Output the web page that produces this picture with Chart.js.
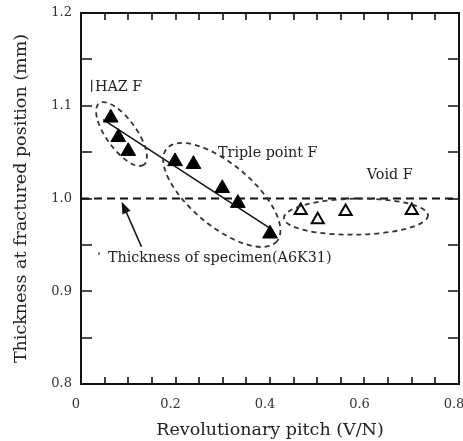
<!DOCTYPE html>
<html>
<head>
<meta charset="utf-8">
<script src="https://cdn.jsdelivr.net/npm/chart.js@4/dist/chart.umd.min.js"></script>
<style>
  html, body { margin: 0; padding: 0; background: #fff; }
  #wrap { width: 463px; height: 441px; }
</style>
</head>
<body>
<div id="wrap"><canvas id="thick_chart" width="463" height="441"></canvas></div>
<script>
// values
var hazX = [0.063, 0.079, 0.100];
var hazY = [1.087, 1.066, 1.051];
var tripleX = [0.199, 0.238, 0.299, 0.332, 0.400];
var tripleY = [1.040, 1.037, 1.011, 0.995, 0.962];
var voidX = [0.465, 0.501, 0.560, 0.700];
var voidY = [0.987, 0.977, 0.986, 0.987];
var fitX = [0.047, 0.406];
var fitY = [1.085, 0.966];
var specimenY = 1.0;
var xTicks = [0, 0.2, 0.4, 0.6, 0.8];
var yTicks = [0.8, 0.9, 1.0, 1.1, 1.2];

function pts(xs, ys) {
   return xs.map(function (x, i) { return {x: x, y: ys[i]}; });
}

var SERIF = '"DejaVu Serif", serif';
var INK = '#222';

// dashed ellipses, text and arrow (centres in data units)
var ellipses = [
   {x: 0.0857, y: 1.0695, rx: 38, ry: 15, rot: 54},
   {x: 0.298, y: 1.0038, rx: 72, ry: 31, rot: 40},
   {x: 0.582, y: 0.9804, rx: 72, ry: 18, rot: -1}
];
var notes = [
   {text: 'HAZ F', x: 0.0296, y: 1.120},
   {text: 'Triple point F', x: 0.290, y: 1.049},
   {text: 'Void F', x: 0.605, y: 1.025},
   {text: 'Thickness of specimen(A6K31)', x: 0.057, y: 0.935}
];
var arrow = {x0: 0.128, y0: 0.948, x1: 0.086, y1: 0.9966};

var framePlugin = {
   id: 'frame',
   afterDatasetsDraw: function (chart) {
      var ctx = chart.ctx;
      var xs = chart.scales.x, ys = chart.scales.y;
      var a = chart.chartArea;
      ctx.save();

      // ellipses
      ctx.strokeStyle = '#333';
      ctx.lineWidth = 1.8;
      ctx.setLineDash([5, 4]);
      ellipses.forEach(function (e) {
         ctx.beginPath();
         ctx.ellipse(xs.getPixelForValue(e.x), ys.getPixelForValue(e.y), e.rx, e.ry,
            e.rot * Math.PI / 180, 0, Math.PI * 2);
         ctx.stroke();
      });
      ctx.setLineDash([]);

      // notes
      ctx.fillStyle = INK;
      ctx.font = '14.3px ' + SERIF;
      ctx.textBaseline = 'middle';
      ctx.textAlign = 'left';
      notes.forEach(function (n) {
         ctx.fillText(n.text, xs.getPixelForValue(n.x), ys.getPixelForValue(n.y));
      });

      // stray marks in the original
      ctx.strokeStyle = INK;
      ctx.lineWidth = 1.2;
      ctx.beginPath();
      ctx.moveTo(xs.getPixelForValue(0.0226), ys.getPixelForValue(1.128));
      ctx.lineTo(xs.getPixelForValue(0.0226), ys.getPixelForValue(1.115));
      ctx.moveTo(xs.getPixelForValue(0.038), ys.getPixelForValue(0.942));
      ctx.lineTo(xs.getPixelForValue(0.038), ys.getPixelForValue(0.939));
      ctx.stroke();

      // arrow
      var ax0 = xs.getPixelForValue(arrow.x0), ay0 = ys.getPixelForValue(arrow.y0);
      var ax1 = xs.getPixelForValue(arrow.x1), ay1 = ys.getPixelForValue(arrow.y1);
      var ang = Math.atan2(ay1 - ay0, ax1 - ax0);
      ctx.strokeStyle = '#111';
      ctx.lineWidth = 1.6;
      ctx.beginPath();
      ctx.moveTo(ax0, ay0);
      ctx.lineTo(ax1 - 8 * Math.cos(ang), ay1 - 8 * Math.sin(ang));
      ctx.stroke();
      ctx.fillStyle = '#111';
      ctx.beginPath();
      ctx.moveTo(ax1, ay1);
      ctx.lineTo(ax1 - 12 * Math.cos(ang) + 4.5 * Math.sin(ang), ay1 - 12 * Math.sin(ang) - 4.5 * Math.cos(ang));
      ctx.lineTo(ax1 - 12 * Math.cos(ang) - 4.5 * Math.sin(ang), ay1 - 12 * Math.sin(ang) + 4.5 * Math.cos(ang));
      ctx.closePath();
      ctx.fill();

      // box + inward ticks
      ctx.strokeStyle = '#111';
      ctx.lineWidth = 2;
      ctx.strokeRect(a.left, a.top, a.right - a.left, a.bottom - a.top);
      ctx.lineWidth = 1.6;
      ctx.beginPath();
      var v, p;
      for (v = 0.05; v < 0.8; v += 0.05) {
         p = Math.round(xs.getPixelForValue(v));
         ctx.moveTo(p, a.bottom); ctx.lineTo(p, a.bottom - 7);
         ctx.moveTo(p, a.top); ctx.lineTo(p, a.top + 7);
      }
      for (v = 0.85; v < 1.2; v += 0.05) {
         p = Math.round(ys.getPixelForValue(v));
         ctx.moveTo(a.left, p); ctx.lineTo(a.left + 11, p);
         ctx.moveTo(a.right, p); ctx.lineTo(a.right - 11, p);
      }
      ctx.stroke();
      ctx.restore();
   }
};

var ctx = document.getElementById('thick_chart').getContext('2d');
var thick_chart = new Chart(ctx, {
   type: 'scatter',
   data: {
      datasets: [
         {
            label: 'HAZ F',
            data: pts(hazX, hazY),
            pointStyle: 'triangle',
            pointRadius: 8.5,
            backgroundColor: '#000',
            borderColor: '#000',
            borderWidth: 1
         },
         {
            label: 'Triple point F',
            data: pts(tripleX, tripleY),
            pointStyle: 'triangle',
            pointRadius: 8.5,
            backgroundColor: '#000',
            borderColor: '#000',
            borderWidth: 1
         },
         {
            label: 'Void F',
            data: pts(voidX, voidY),
            pointStyle: 'triangle',
            pointRadius: 7,
            backgroundColor: '#fff',
            borderColor: '#000',
            borderWidth: 2
         },
         {
            label: 'fit',
            type: 'line',
            data: pts(fitX, fitY),
            showLine: true,
            pointRadius: 0,
            borderColor: '#111',
            borderWidth: 1.5
         },
         {
            label: 'Thickness of specimen',
            type: 'line',
            data: [{x: 0, y: specimenY}, {x: 0.8, y: specimenY}],
            showLine: true,
            pointRadius: 0,
            borderColor: '#111',
            borderWidth: 2,
            borderDash: [8, 5]
         }
      ]
   },
   options: {
      responsive: false,
      animation: false,
      events: [],
      layout: {autoPadding: false, padding: {top: 13, right: 4, left: 0, bottom: 0}},
      plugins: {legend: {display: false}, tooltip: {enabled: false}},
      scales: {
         x: {
            type: 'linear',
            min: 0,
            max: 0.8,
            grid: {display: false, drawTicks: false},
            border: {display: false},
            afterBuildTicks: function (s) { s.ticks = xTicks.map(function (v) { return {value: v}; }); },
            afterFit: function (s) { s.height = 57; s.paddingLeft = 0; s.paddingRight = 0; },
            ticks: {
               padding: 13,
               labelOffset: -5,
               color: '#333',
               font: {family: SERIF, size: 13},
               maxRotation: 0,
               callback: function (v) { return v === 0 ? '0' : v.toFixed(1); }
            },
            title: {
               display: true,
               text: 'Revolutionary pitch (V/N)',
               color: INK,
               font: {family: SERIF, size: 17.5},
               padding: {top: 0, bottom: 0}
            }
         },
         y: {
            type: 'linear',
            min: 0.8,
            max: 1.2,
            grid: {display: false, drawTicks: false},
            border: {display: false},
            afterBuildTicks: function (s) { s.ticks = yTicks.map(function (v) { return {value: v}; }); },
            afterFit: function (s) { s.width = 81; s.paddingTop = 0; s.paddingBottom = 0; },
            ticks: {
               padding: 9,
               color: '#333',
               font: {family: SERIF, size: 13},
               callback: function (v) { return v.toFixed(1); }
            },
            title: {
               display: true,
               text: 'Thickness at fractured position (mm)',
               color: INK,
               font: {family: SERIF, size: 17.5},
               padding: {top: 11, bottom: 0}
            }
         }
      }
   },
   plugins: [framePlugin]
});
</script>
</body>
</html>
